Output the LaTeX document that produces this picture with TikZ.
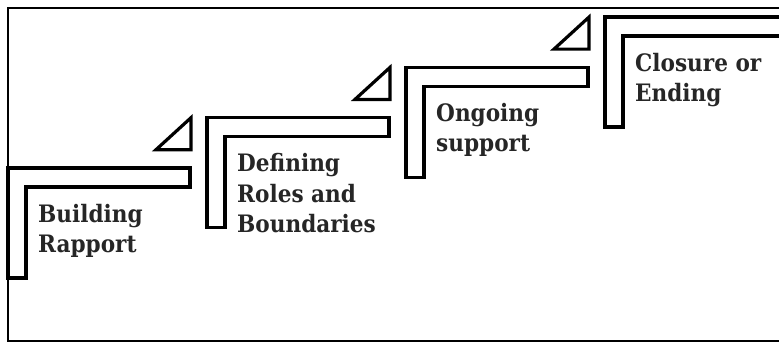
\documentclass[tikz,border=0pt]{standalone}
\usepackage{fontspec}
\setmainfont{DejaVu Serif}[FakeStretch=0.9]
\begin{document}
\begin{tikzpicture}[x=1pt,y=-1pt,
  frameline/.style={line width=2pt,draw=black},
  stepshape/.style={line width=3.4pt,draw=black,line join=miter},
  wedge/.style={line width=3.2pt,draw=black,line join=miter},
  steplabel/.style={anchor=base west,align=left,inner sep=0pt,
    font=\bfseries\fontsize{24}{30.5}\selectfont,text=black!85}]
\useasboundingbox (0,0) rectangle (779,343);
\clip (0,0) rectangle (779,343);
% frame (open on the right)
\draw[frameline] (790,8) -- (8,8) -- (8,341) -- (790,341);
% steps
\foreach \k/\name in {0/s1,1/s2,2/s3,3/s4}{
  \pgfmathsetmacro{\L}{8+199*\k}
  \pgfmathsetmacro{\T}{168-50.3*\k}
  \draw[stepshape] (\L,\T) -- (\L+182,\T) -- (\L+182,\T+19) -- (\L+18,\T+19)
     -- (\L+18,\T+110) -- (\L,\T+110) -- cycle;
  \coordinate (\name) at (\L+30,\T+54);
}
\foreach \k in {1,2,3}{
  \pgfmathsetmacro{\L}{8+199*\k}
  \pgfmathsetmacro{\T}{168-50.3*\k}
  \draw[wedge] (\L-16,\T) -- (\L-16,\T+32) -- (\L-51,\T+32) -- cycle;
}
% the base anchor of a multi-line node is the baseline of its last line
\node[steplabel] (t1) at ([yshift=-30.5pt]s1) {Building\\Rapport};
\node[steplabel] (t2) at ([yshift=-61pt]s2) {Defining\\Roles and\\Boundaries};
\node[steplabel] (t3) at ([yshift=-30.5pt]s3) {Ongoing\\support};
\node[steplabel] (t4) at ([yshift=-30.5pt]s4) {Closure or\\Ending};
\end{tikzpicture}
\end{document}
